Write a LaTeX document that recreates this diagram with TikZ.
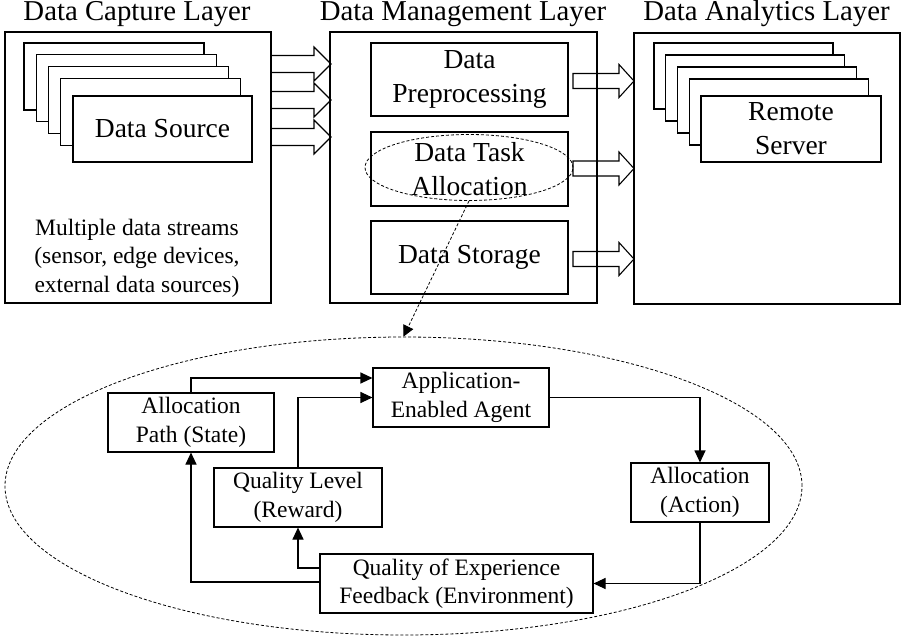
\documentclass[tikz,border=0pt]{standalone}
\usepackage{fontspec}
\setmainfont{Liberation Serif}
\usetikzlibrary{shapes.geometric,arrows.meta,calc}
\begin{document}
\begin{tikzpicture}[x=1pt,y=-1pt,
  box/.style={draw,line width=1.1pt,fill=white,inner sep=0pt,align=center},
  bigtxt/.style={font=\fontsize{27.5}{34}\selectfont},
  smalltxt/.style={font=\fontsize{23.5}{28.5}\selectfont},
  titletxt/.style={font=\fontsize{28.8}{34}\selectfont, anchor=base, inner sep=0pt},
  arr/.style={line width=1.1pt,-{Triangle[length=12pt,width=11pt]}},
  blk/.style={draw,line width=1.1pt,line join=miter},
  dsh/.style={draw,line width=0.8pt,dash pattern=on 3pt off 2pt},
]
\useasboundingbox (0,0) rectangle (906,639);

% titles
\node[titletxt] (t1) at (137,21) {Data Capture Layer};
\node[titletxt] (t2) at (463,21) {Data Management Layer};
\node[titletxt] (t3) at (766.5,21) {Data Analytics Layer};

% layer boxes
\node[box, minimum width=266, minimum height=271] (cap) at (138,167.5) {};
\node[box, minimum width=267, minimum height=271] (mgmt) at (463.5,167.5) {};
\node[box, minimum width=266, minimum height=271] (ana) at (767,168.5) {};

% data source stack
\foreach \i in {0,1,2,3}{
  \node[box, minimum width=180, minimum height=67] (ds\i) at ({114+12.2*\i},{76.5+11.8*\i}) {};
}
\node[box, bigtxt, minimum width=179, minimum height=66] (ds) at (162.5,129) {Data Source};

\node[smalltxt, align=center, inner sep=0pt] (streams) at (137,258)
  {Multiple data streams\\(sensor, edge devices,\\external data sources)};

% remote server stack
\foreach \i in {0,1,2,3}{
  \node[box, minimum width=179, minimum height=66] (rs\i) at ({743.5+11.7*\i},{76+12*\i}) {};
}
\node[box, bigtxt, minimum width=180, minimum height=66] (rs) at (791,129) {Remote\\Server};

% management inner boxes
\node[box, bigtxt, minimum width=197, minimum height=73] (pre) at (469.5,79.5) {Data\\Preprocessing};
\node[box, bigtxt, minimum width=197, minimum height=74] (task) at (469.5,169) {Data Task\\Allocation};
\node[box, bigtxt, minimum width=197, minimum height=73] (stor) at (469.5,257.5) {Data Storage};
\node[ellipse, dsh, inner sep=0pt, minimum width=208, minimum height=66] (taskell) at (469,167.5) {};

% block arrows capture -> management
\foreach \c in {64,100,137}{
  \draw[blk] (271,\c-8.5) -- (314,\c-8.5) -- (314,\c-17) -- (331,\c) -- (314,\c+17) -- (314,\c+8.5) -- (271,\c+8.5);
}
% block arrows management -> analytics
\foreach \c in {81,168.5,259}{
  \draw[blk] (573,\c-7.5) -- (619,\c-7.5) -- (619,\c-16.5) -- (634,\c) -- (619,\c+16.5) -- (619,\c+7.5) -- (573,\c+7.5) -- cycle;
}

% big dashed ellipse
\node[ellipse, dsh, inner sep=0pt, minimum width=797, minimum height=298] (bigell) at (403.5,486) {};
\draw[dsh, -{Triangle[length=11pt,width=11pt]}] (taskell.south) -- (bigell.north);

% lower boxes
\node[box, smalltxt, minimum width=166, minimum height=59] (path) at (191,422.5) {Allocation\\Path (State)};
\node[box, smalltxt, minimum width=176, minimum height=59] (agent) at (461,397.5) {Application-\\Enabled Agent};
\node[box, smalltxt, minimum width=168, minimum height=59] (ql) at (298,497.5) {Quality Level\\(Reward)};
\node[box, smalltxt, minimum width=273, minimum height=59] (qoe) at (456.5,583.5) {Quality of Experience\\Feedback (Environment)};
\node[box, smalltxt, minimum width=138, minimum height=59] (act) at (700,492.5) {Allocation\\(Action)};

% connectors
\draw[arr] (path.north) |- ([yshift=19.5pt]agent.west);
\draw[arr] (ql.north) |- (agent.west);
\draw[arr] (agent.east) -| (act.north);
\draw[arr] (act.south) |- (qoe.east);
\draw[arr] ([yshift=15.5pt]qoe.west) -| (ql.south);
\draw[arr] ([yshift=1.5pt]qoe.west) -| (path.south);
\end{tikzpicture}
\end{document}
